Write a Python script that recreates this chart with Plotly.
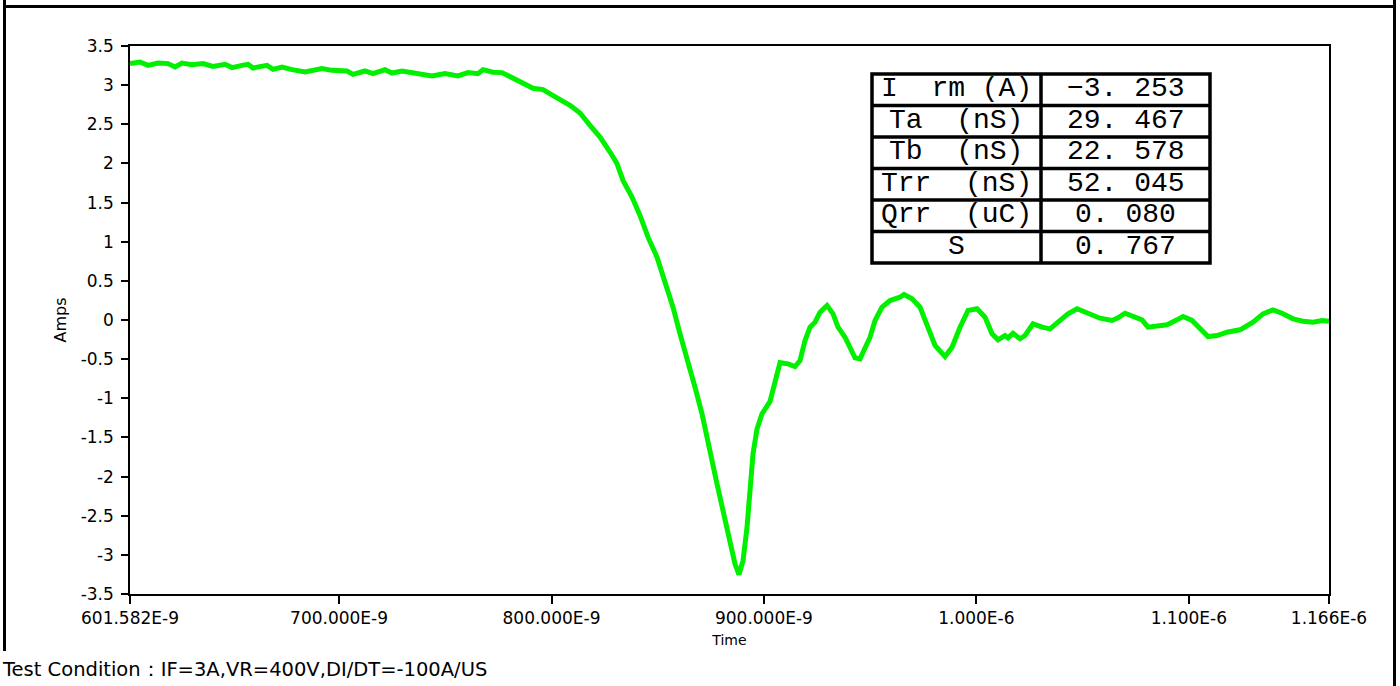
import plotly.graph_objects as go

# ---- data (time in ns, current in A) ----
time_ns = [601.58, 606.29, 610.06, 614.77, 619.47, 622.77, 626.06, 630.77, 635.95, 640.66,
           646.31, 649.60, 654.31, 657.13, 659.49, 666.08, 668.90, 673.14, 677.85, 683.97,
           691.96, 696.67, 703.73, 706.56, 712.21, 715.97, 721.62, 724.92, 729.62, 735.74,
           743.75, 749.87, 755.99, 760.69, 765.40, 767.76, 772.47, 776.70, 781.41, 786.12,
           791.30, 796.00, 799.30, 804.00, 808.71, 813.42, 818.13, 822.84, 827.54, 830.84,
           833.66, 837.90, 841.67, 845.43, 849.67, 853.44, 857.20, 860.50, 865.21, 867.56,
           870.86, 874.62, 877.92, 880.74, 884.04, 886.39, 888.27, 890.16, 892.04, 893.45,
           894.86, 896.75, 899.10, 902.87, 905.22, 907.58, 911.34, 914.64, 916.99, 919.34,
           921.70, 924.05, 926.41, 929.70, 932.53, 934.88, 938.18, 940.53, 942.89, 945.24,
           947.59, 949.94, 952.30, 955.59, 959.36, 964.07, 965.95, 969.72, 973.48, 976.78,
           980.54, 985.25, 988.55, 992.31, 996.08, 1000.32, 1004.08, 1007.38, 1010.20, 1013.50,
           1014.91, 1017.26, 1020.55, 1022.91, 1026.68, 1030.91, 1034.68, 1038.44, 1043.15, 1047.39,
           1052.09, 1058.21, 1063.86, 1066.69, 1069.98, 1073.75, 1077.99, 1080.81, 1085.05, 1089.75,
           1094.46, 1097.29, 1101.52, 1105.29, 1109.06, 1113.29, 1118.00, 1124.12, 1130.24, 1134.95,
           1139.66, 1143.90, 1149.08, 1153.78, 1158.49, 1162.73, 1166.00]

current_a = [3.275, 3.296, 3.253, 3.283, 3.275, 3.232, 3.283, 3.262, 3.275, 3.240,
             3.266, 3.224, 3.253, 3.266, 3.219, 3.253, 3.202, 3.232, 3.198, 3.168,
             3.211, 3.189, 3.181, 3.138, 3.181, 3.147, 3.198, 3.155, 3.181, 3.147,
             3.117, 3.147, 3.117, 3.160, 3.147, 3.198, 3.165, 3.160, 3.100, 3.030,
             2.960, 2.943, 2.883, 2.815, 2.742, 2.644, 2.486, 2.337, 2.145, 1.997,
             1.783, 1.570, 1.336, 1.058, 0.803, 0.483, 0.164, -0.176, -0.603, -0.859,
             -1.199, -1.710, -2.094, -2.435, -2.861, -3.117, -3.253, -3.074, -2.649, -2.137,
             -1.710, -1.391, -1.199, -1.040, -0.820, -0.545, -0.560, -0.594, -0.518, -0.262,
             -0.092, -0.028, 0.100, 0.185, 0.079, -0.092, -0.220, -0.368, -0.483, -0.496,
             -0.348, -0.220, -0.006, 0.164, 0.249, 0.291, 0.326, 0.271, 0.164, -0.049,
             -0.326, -0.467, -0.348, -0.092, 0.121, 0.143, 0.036, -0.176, -0.253, -0.198,
             -0.228, -0.169, -0.240, -0.198, -0.049, -0.092, -0.113, -0.028, 0.079, 0.143,
             0.087, 0.023, -0.006, 0.028, 0.087, 0.045, 0.002, -0.092, -0.070, -0.061,
             0.002, 0.045, -0.006, -0.113, -0.211, -0.198, -0.156, -0.125, -0.028, 0.079,
             0.130, 0.087, 0.015, -0.015, -0.028, -0.006, -0.015]

x_tick_vals = [601.582, 700, 800, 900, 1000, 1100, 1166]
x_tick_text = ["601.582E-9", "700.000E-9", "800.000E-9", "900.000E-9", "1.000E-6", "1.100E-6", "1.166E-6"]
y_tick_vals = [3.5, 3, 2.5, 2, 1.5, 1, 0.5, 0, -0.5, -1, -1.5, -2, -2.5, -3, -3.5]
y_tick_text = ["3.5", "3", "2.5", "2", "1.5", "1", "0.5", "0", "-0.5", "-1", "-1.5", "-2", "-2.5", "-3", "-3.5"]

param_labels = ["I  rm (A)", "Ta  (nS)", "Tb  (nS)", "Trr  (nS)", "Qrr  (uC)", "S"]
param_values = ["-3.253", "29.467", "22.578", "52.045", "0.080", "0.767"]

condition_text = "Test Condition：IF=3A,VR=400V,DI/DT=-100A/US"

# ---- figure ----
W, H = 1400, 686
ML, MR, MT, MB = 130, 71, 46, 92
pw, ph = W - ML - MR, H - MT - MB


def px_x(p):
    return (p - ML) / pw


def px_y(p):
    return (H - MB - p) / ph


SANS = "DejaVu Sans, Arial, sans-serif"
MONO = "Liberation Mono, Courier New, monospace"

fig = go.Figure()
fig.add_trace(go.Scatter(x=time_ns, y=current_a, mode="lines",
                         line=dict(color="#00F000", width=5), showlegend=False,
                         hoverinfo="x+y"))

axis_font = dict(family=SANS, size=17, color="black")
fig.update_xaxes(range=[601.582, 1166.0], tickvals=x_tick_vals, ticktext=x_tick_text,
                 ticks="outside", ticklen=8, tickwidth=2, tickcolor="black",
                 showline=True, linecolor="black", linewidth=1.5, mirror=True,
                 showgrid=False, zeroline=False, tickfont=axis_font,
                 title=dict(text="Time", font=dict(family=SANS, size=14, color="black"), standoff=8),
                 automargin=False)
fig.update_yaxes(range=[-3.5, 3.5], tickvals=y_tick_vals, ticktext=y_tick_text,
                 ticks="outside", ticklen=7, tickwidth=2, tickcolor="black",
                 ticklabelstandoff=4,
                 showline=True, linecolor="black", linewidth=1.5, mirror=True,
                 showgrid=False, zeroline=False, tickfont=axis_font,
                 title=dict(text="Amps", font=dict(family=SANS, size=16, color="black"), standoff=10),
                 automargin=False)

# ---- outer frame ----
frame = dict(color="black", width=3)
shapes = [
    dict(type="line", xref="paper", yref="paper", x0=px_x(4.5), x1=px_x(4.5), y0=px_y(0), y1=px_y(651), line=frame),
    dict(type="line", xref="paper", yref="paper", x0=px_x(1394.5), x1=px_x(1394.5), y0=px_y(0), y1=px_y(686), line=frame),
    dict(type="line", xref="paper", yref="paper", x0=px_x(3), x1=px_x(1396), y0=px_y(6.5), y1=px_y(6.5), line=frame),
]

# ---- parameter table (grid lines + text) ----
nb = "\u00a0"
lab = [s.replace(" ", nb) for s in param_labels]
val = [v.replace(".", "." + nb).replace("-", "−") for v in param_values]
tx0, tx1, txm = 872, 1210, 1041
ty0, ty1 = 74, 263
nrows = len(lab)
rh = (ty1 - ty0) / nrows
tline = dict(color="black", width=3.5)
shapes.append(dict(type="rect", xref="paper", yref="paper", x0=px_x(tx0), x1=px_x(tx1),
                   y0=px_y(ty1), y1=px_y(ty0), line=tline, fillcolor="white", layer="above"))
shapes.append(dict(type="line", xref="paper", yref="paper", x0=px_x(txm), x1=px_x(txm),
                   y0=px_y(ty1), y1=px_y(ty0), line=tline, layer="above"))
annotations = []
for i in range(nrows):
    if i > 0:
        yy = px_y(ty0 + i * rh)
        shapes.append(dict(type="line", xref="paper", yref="paper", x0=px_x(tx0), x1=px_x(tx1),
                           y0=yy, y1=yy, line=tline, layer="above"))
    yc = px_y(ty0 + (i + 0.5) * rh)
    annotations.append(dict(text=lab[i], xref="paper", yref="paper", x=px_x((tx0 + txm) / 2), y=yc,
                            xanchor="center", yanchor="middle", showarrow=False, yshift=1,
                            font=dict(family=MONO, size=28, color="black")))
    annotations.append(dict(text=val[i], xref="paper", yref="paper", x=px_x((txm + tx1) / 2), y=yc,
                            xanchor="center", yanchor="middle", showarrow=False, yshift=1,
                            font=dict(family=MONO, size=28, color="black")))

annotations.append(dict(text=condition_text, xref="paper", yref="paper",
                        x=px_x(0), y=px_y(669), xanchor="left", yanchor="middle",
                        showarrow=False,
                        font=dict(family=SANS, size=19.5, color="black")))

fig.update_layout(
    width=W, height=H,
    margin=dict(l=ML, r=MR, t=MT, b=MB),
    paper_bgcolor="white", plot_bgcolor="white",
    shapes=shapes,
    annotations=annotations,
    showlegend=False,
)

fig.write_html("out.html", config={"displayModeBar": False},
               post_script="document.body.style.margin='0';document.body.style.overflow='hidden';")
